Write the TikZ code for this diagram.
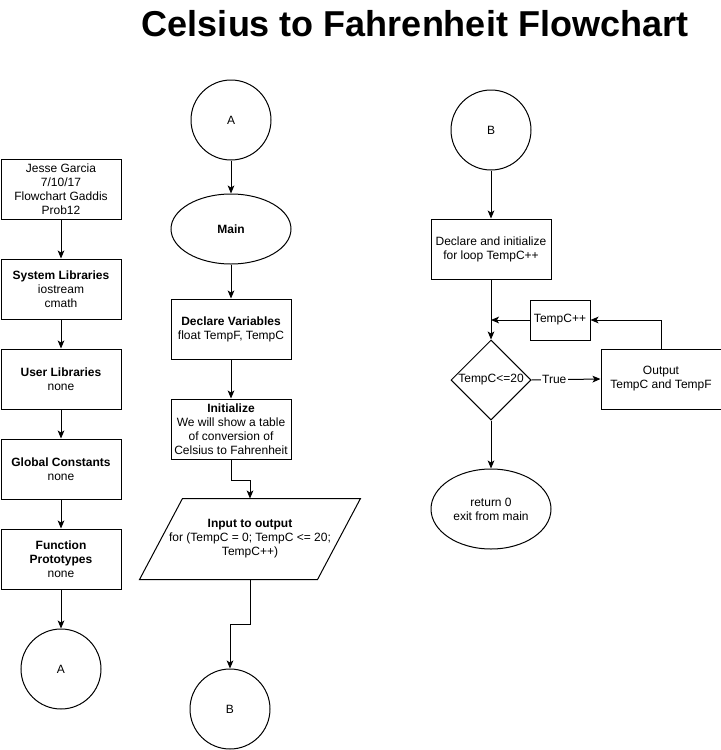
\documentclass[tikz,border=0pt]{standalone}
\usepackage{fontspec}
\setmainfont{Liberation Sans}
\usetikzlibrary{shapes.geometric,arrows.meta}
\begin{document}
\begin{tikzpicture}[x=0.75pt,y=-0.75pt,line width=0.75pt,
    font=\fontsize{9}{10.5}\selectfont,
    box/.style={draw,rectangle,align=center,inner sep=1pt,minimum width=90pt,minimum height=45pt},
    conn/.style={draw,circle,minimum size=60pt,inner sep=0pt},
    term/.style={draw,ellipse,align=center,inner sep=1pt,minimum width=90pt},
    arr/.style={-{Stealth[length=6pt,width=5pt,inset=1.5pt]}}]
        \useasboundingbox (0,0) rectangle (721,750);
        \node (title) at (415,24) {\bfseries\fontsize{27}{30}\selectfont Celsius to Fahrenheit Flowchart};
        % left column
        \node[box] (info) at (61,189) {Jesse Garcia\\7/10/17\\Flowchart Gaddis\\Prob12};
        \node[box] (syslib) at (61,289) {\textbf{System Libraries}\\iostream\\cmath};
        \node[box] (userlib) at (61,379) {\textbf{User Libraries}\\none};
        \node[box] (globconst) at (61,469) {\textbf{Global Constants}\\none};
        \node[box] (protos) at (61,559) {\textbf{Function}\\\textbf{Prototypes}\\none};
        \node[conn] (conA1) at (61,669) {A};
        % middle column
        \node[conn] (conA) at (231,120) {A};
        \node[term,minimum height=52.5pt] (main) at (231,229) {\textbf{Main}};
        \node[box] (declvar) at (231,329) {\textbf{Declare Variables}\\float TempF, TempC};
        \node[box] (init) at (231,429) {\textbf{Initialize}\\We will show a table\\of conversion of\\Celsius to Fahrenheit};
        \node[align=center,inner sep=1pt,minimum width=132.75pt,minimum height=60pt] (io) at (250,539)
              {\textbf{Input to output}\\for (TempC = 0; TempC <= 20;\\TempC++)};
        \draw ([xshift=16.1pt]io.north west) -- ([xshift=16.1pt]io.north east)
              -- ([xshift=-16.1pt]io.south east) -- ([xshift=-16.1pt]io.south west) -- cycle;
        \node[conn] (conB) at (230,709) {B};
        % right column
        \node[conn] (conB2) at (491,130) {B};
        \node[box] (declinit) at (491,249) {Declare and initialize\\for loop TempC++};
        \node[draw,rectangle,inner sep=1pt,minimum width=45pt,minimum height=30pt] (inc) at (560,320) {TempC++};
        \node[draw,diamond,inner sep=0pt,minimum width=60pt,minimum height=60pt] (cond) at (491,380) {TempC<=20};
        \node[box] (output) at (661,379) {Output\\TempC and TempF};
        \node[term,minimum height=60pt] (ret) at (491,509) {return 0\\exit from main};
        % connectors
        \draw[arr] (info) -- (syslib);
        \draw[arr] (syslib) -- (userlib);
        \draw[arr] (userlib) -- (globconst);
        \draw[arr] (globconst) -- (protos);
        \draw[arr] (protos) -- (conA1);
        \draw[arr] (conA) -- (main);
        \draw[arr] (main) -- (declvar);
        \draw[arr] (declvar) -- (init);
        \draw[arr] (init.south) -- ++(0,21) -| (io.north);
        \draw[arr] (io.south) -- ++(0,45) -| (conB.north);
        \draw[arr] (conB2) -- (declinit);
        \draw[arr] (declinit.south) -- (cond.north);
        \draw[arr] (inc.west) -- (cond.north |- inc.west);
        \draw[arr] (output.north) |- (inc.east);
        \draw[arr] (cond.east) -- node[pos=0.33,fill=white,inner sep=1pt] {True} (output.west);
        \draw[arr] (cond.south) -- (ret.north);
\end{tikzpicture}
\end{document}
